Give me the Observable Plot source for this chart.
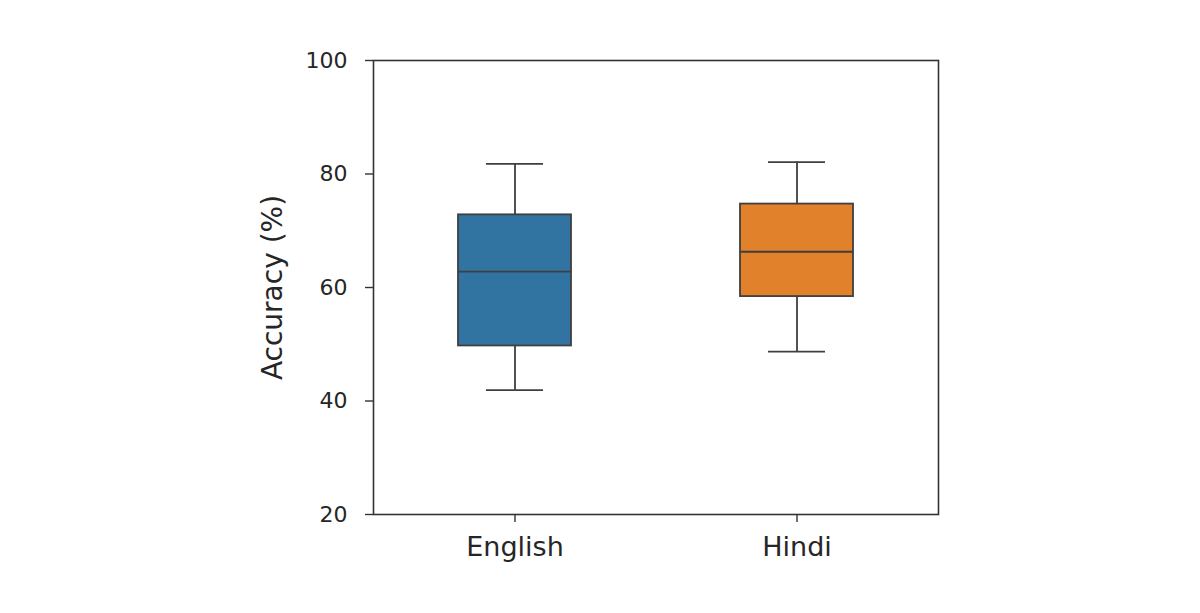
<!DOCTYPE html>
<html>
<head>
<meta charset="utf-8">
<script src="https://cdn.jsdelivr.net/npm/d3@7"></script>
<script src="https://cdn.jsdelivr.net/npm/@observablehq/plot@0.6"></script>
<style>
  html, body { margin: 0; padding: 0; background: #fff; }
  #chart { width: 1200px; height: 613px; }
  svg { font-family: "DejaVu Sans", sans-serif; }
</style>
</head>
<body>
<div id="chart"></div>
<script>
// Data
const languages = ["English", "Hindi"];
const whiskerLow = [41.9, 48.7];
const q1 = [49.7, 58.4];
const median = [62.8, 66.3];
const q3 = [72.8, 74.7];
const whiskerHigh = [81.8, 82.1];
const colors = ["#3274a1", "#e1812c"];
const yTicks = [20, 40, 60, 80, 100];
const yLabel = "Accuracy (%)";

const rows = languages.map((lang, i) => ({
  lang, low: whiskerLow[i], q1: q1[i], med: median[i], q3: q3[i], high: whiskerHigh[i]
}));

const edge = "#3f3f3f";
const ink = "#262626";

const chart = Plot.plot({
  width: 1200,
  height: 613,
  marginTop: 60,
  marginRight: 262,
  marginBottom: 99,
  marginLeft: 373,
  style: { fontFamily: "DejaVu Sans, sans-serif", color: ink, background: "#fff" },
  x: { type: "band", domain: languages, paddingInner: 0.6, paddingOuter: 0.3 },
  y: { domain: [20, 100] },
  color: { domain: languages, range: colors },
  marks: [
    Plot.ruleX(rows, { x: "lang", y1: "low", y2: "high", stroke: edge, strokeWidth: 1.8 }),
    Plot.tickY(rows, { x: "lang", y: "low", stroke: edge, strokeWidth: 1.8, insetLeft: 28, insetRight: 28 }),
    Plot.tickY(rows, { x: "lang", y: "high", stroke: edge, strokeWidth: 1.8, insetLeft: 28, insetRight: 28 }),
    Plot.barY(rows, { x: "lang", y1: "q1", y2: "q3", fill: "lang", stroke: edge, strokeWidth: 1.8 }),
    Plot.tickY(rows, { x: "lang", y: "med", stroke: edge, strokeWidth: 1.8 }),
    Plot.frame({ stroke: "#333", strokeWidth: 1.6 }),
    Plot.axisY({ ticks: yTicks, tickSize: 8, tickPadding: 18, fontSize: 22, label: null, stroke: "#333", strokeWidth: 1.4 }),
    Plot.axisX({ tickSize: 8, tickPadding: 14, fontSize: 27, label: null, stroke: "#333", strokeWidth: 1.4 }),
    Plot.text([yLabel], { text: d => d, frameAnchor: "left", textAnchor: "middle", rotate: -90, dx: -100, fontSize: 28, fill: ink })
  ]
});

document.getElementById("chart").appendChild(chart);
</script>
</body>
</html>
